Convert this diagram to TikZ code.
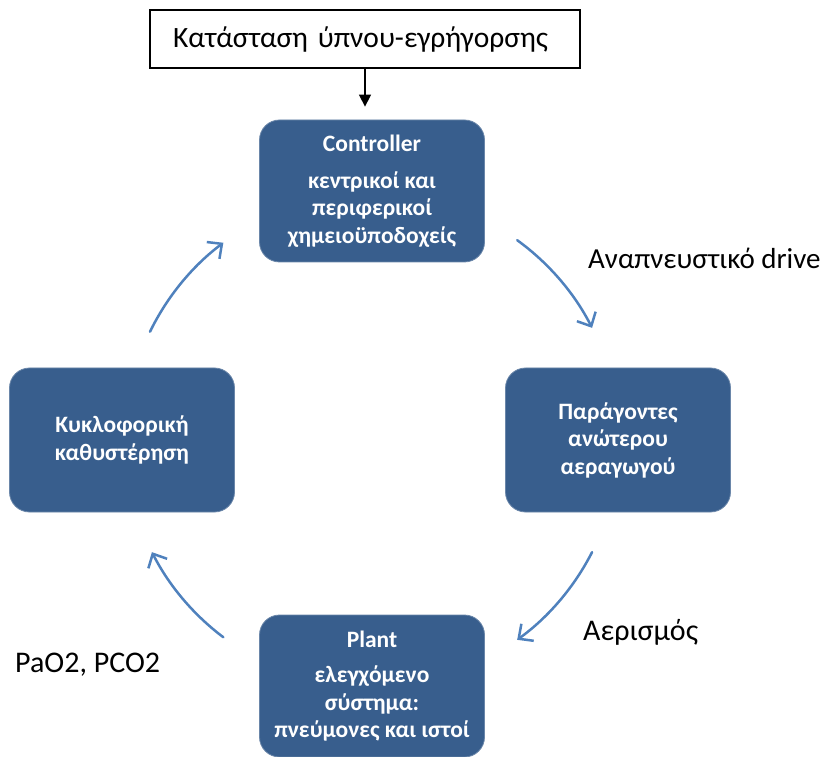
\documentclass[tikz,border=0pt]{standalone}
\usepackage{fontspec}
\setmainfont{Carlito}
\usepackage{tikz}
\usetikzlibrary{arrows.meta}
\usetikzlibrary{calc}
\definecolor{boxblue}{RGB}{56,94,141}
\definecolor{arrowblue}{RGB}{79,129,189}

\begin{document}
\begin{tikzpicture}[x=1pt, y=1pt,
	cyclebox/.style={rectangle, rounded corners=20pt, fill=boxblue, draw=boxblue!75!white, line width=0.8pt,
		text=white, minimum width=225pt, minimum height=142pt, align=center,
		font=\fontsize{23.5}{27.5}\selectfont\bfseries},
	statebox/.style={draw, line width=1.2pt, text width=384pt, inner xsep=23pt, minimum height=58pt,
		align=left, font=\fontsize{29.5}{32}\selectfont},
	cyc/.style={arrowblue, line width=2.5pt, line cap=round, -{Straight Barb[length=11pt, width=21pt]}},
	lbl/.style={anchor=west, inner sep=0pt, font=\fontsize{30}{34}\selectfont}]
		\useasboundingbox (0,0) rectangle (827,756);
		\coordinate (hub) at (372,316);
		% the four stages of the loop
		\node[cyclebox] (ctrl) at (372,565) {Controller\\[9pt] κεντρικοί και\\ περιφερικοί\\ χημειοϋποδοχείς};
		\node[cyclebox, minimum height=144pt] (airway) at (618,316) {Παράγοντες\\ ανώτερου\\ αεραγωγού};
		\node[cyclebox, minimum height=144pt] (delay) at (122,316) {Κυκλοφορική\\ καθυστέρηση};
		\node[cyclebox] (plant) at (372,70) {Plant\\[8pt] ελεγχόμενο\\ σύστημα:\\ πνεύμονες και ιστοί};
		% input from above
		\node[statebox] (state) at (365,717) {Κατάσταση ύπνου-εγρήγορσης};
		\draw[line width=1.5pt, -{Triangle[length=12pt, width=12pt]}, shorten >=13pt]
		(state.south) -- (state.south |- ctrl.north);
		% cycle arrows
		\draw[cyc] (hub) ++(54:247) arc[start angle=54, end angle=27, radius=247];
		\draw[cyc] (hub) ++(-27:247) arc[start angle=-27, end angle=-54, radius=247];
		\draw[cyc] (hub) ++(-127:247) arc[start angle=-127, end angle=-153, radius=247];
		\draw[cyc] (hub) ++(154:247) arc[start angle=154, end angle=127, radius=247];
		% signals
		\node[lbl, font=\fontsize{29}{34}\selectfont] (drive) at (588,498) {Αναπνευστικό drive};
		\node[lbl] (vent) at (583,124) {Αερισμός};
		\node[lbl] (gases) at (15,91) {PaO2, PCO2};
\end{tikzpicture}
\end{document}
